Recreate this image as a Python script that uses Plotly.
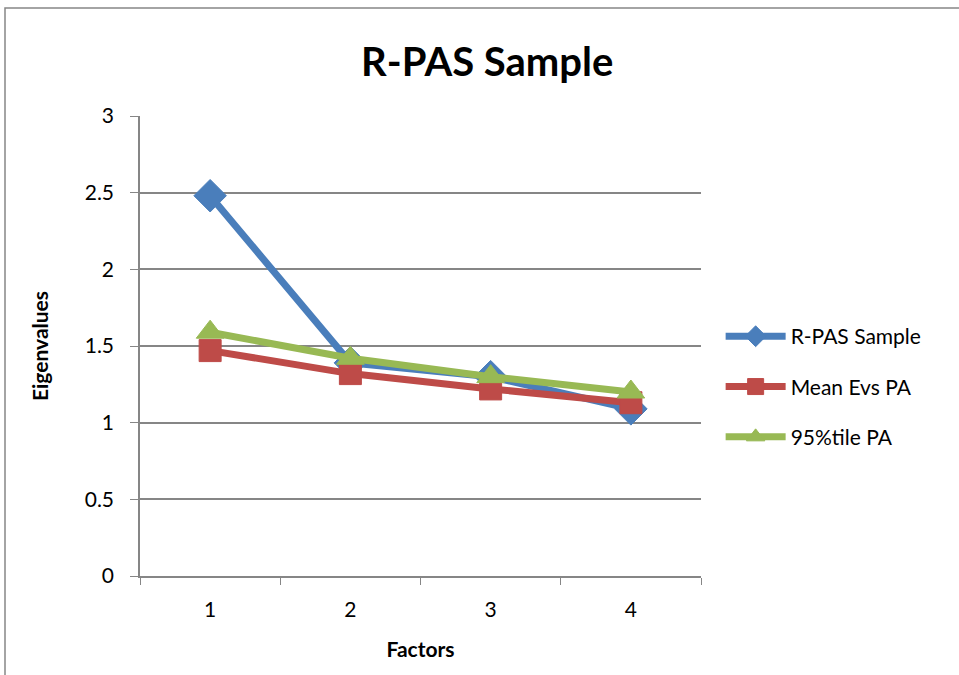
import plotly.graph_objects as go

factors = ["1", "2", "3", "4"]
rpas_sample = [2.48, 1.39, 1.30, 1.09]
mean_evs_pa = [1.47, 1.32, 1.22, 1.13]
pct95_pa = [1.59, 1.42, 1.30, 1.20]
y_ticks = [0, 0.5, 1, 1.5, 2, 2.5, 3]
y_labels = ["0", "0.5", "1", "1.5", "2", "2.5", "3"]

series = [
    ("R-PAS Sample", rpas_sample, "#4A7EBB", "diamond", 25),
    ("Mean Evs PA", mean_evs_pa, "#BE4B48", "square", 22),
    ("95%tile PA", pct95_pa, "#98B954", "triangle-up", 24),
]

FONT = "Lato, Carlito, Calibri, sans-serif"

fig = go.Figure()
for i, (name, vals, col, sym, sz) in enumerate(series):
    fig.add_trace(go.Scatter(
        x=factors, y=vals, name=name, mode="lines+markers",
        line=dict(color=col, width=7),
        marker=dict(symbol=sym, size=sz, color=col, line=dict(width=1, color=col)),
        legendgroup=f"g{i}",
    ))

fig.update_layout(
    width=959, height=675,
    margin=dict(l=140, r=258, t=116, b=99),
    paper_bgcolor="white", plot_bgcolor="white",
    font=dict(family=FONT, size=20, color="black"),
    title=dict(text="<b>R-PAS Sample</b>", x=0.508, xanchor="center",
               y=1 - 62 / 675, yanchor="middle",
               font=dict(family=FONT, size=40, color="black")),
    legend=dict(x=1.035, xanchor="left", y=0.565, yanchor="top",
                font=dict(family=FONT, size=21), traceorder="grouped",
                tracegroupgap=20, itemwidth=60, bgcolor="rgba(0,0,0,0)"),
    showlegend=True,
)

fig.update_xaxes(
    type="category", tickson="boundaries", ticks="outside", ticklen=7,
    tickcolor="#868686", showline=True, linecolor="#868686", linewidth=1.5,
    showgrid=False, range=[-0.5, 3.5], ticklabelstandoff=14,
    tickfont=dict(size=21),
    title=dict(text="<b>Factors</b>", font=dict(size=21), standoff=22),
)
fig.update_yaxes(
    range=[0, 3], tickvals=y_ticks, ticktext=y_labels, ticks="outside", ticklen=8,
    tickcolor="#868686", showline=True, linecolor="#868686", linewidth=1.5,
    showgrid=True, gridcolor="#868686", gridwidth=1.5, zeroline=False,
    ticklabelstandoff=12,
    tickfont=dict(size=21),
    title=dict(text="<b>Eigenvalues</b>", font=dict(size=21), standoff=30),
)

fig.add_shape(type="rect", xref="paper", yref="paper",
              x0=(5 - 140) / 561, x1=2.0, y0=-0.3, y1=(576 - 8) / 460,
              line=dict(color="#868686", width=1.5), fillcolor="rgba(0,0,0,0)",
              layer="below")

fig.write_html("out.html")
